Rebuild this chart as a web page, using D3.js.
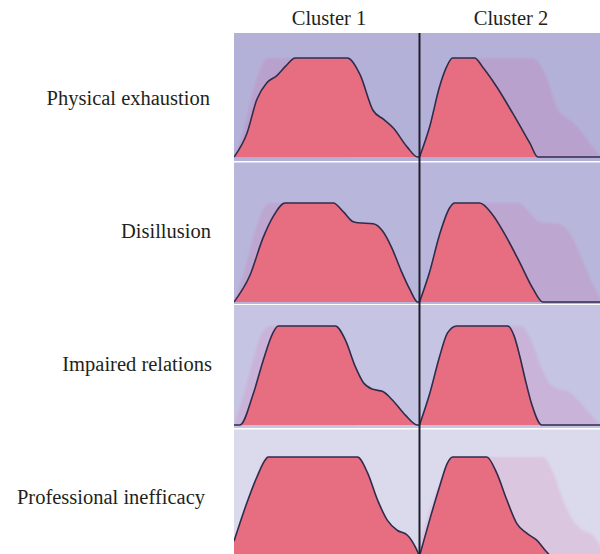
<!DOCTYPE html>
<html>
<head>
<meta charset="utf-8">
<script src="https://cdn.jsdelivr.net/npm/d3@7"></script>
<style>
  body { margin: 0; background: #fff; }
  text { font-family: "Liberation Serif", "DejaVu Serif", serif; fill: #231f20; }
</style>
</head>
<body>
<div id="container"></div>
<script>
// categories
const dimensions = ["Physical exhaustion", "Disillusion", "Impaired relations", "Professional inefficacy"];
const clusters = ["Cluster 1", "Cluster 2"];

// profiles: [score 0-100, relative density 0-1]
const exhaustion1 = [[0,0],[7,0.24],[12.3,0.58],[17.7,0.75],[23,0.82],[28,0.92],[33,1],[61,1],[68,0.83],[75,0.47],[80.7,0.38],[86,0.29],[93.4,0.1],[99,0],[100,0]];
const exhaustion2 = [[0,0],[5.4,0.3],[10.8,0.71],[14.6,0.91],[17.8,1],[29.7,1],[34,0.91],[41.6,0.71],[50.3,0.44],[59.5,0.14],[63.8,0],[100,0]];
const disillusion1 = [[0,0],[8.6,0.27],[15.7,0.65],[21,0.86],[27.6,1],[53.5,1],[59,0.91],[64.3,0.81],[67,0.8],[75,0.79],[80,0.72],[85,0.55],[90,0.32],[95,0.12],[99,0],[100,0]];
const disillusion2 = [[0,0],[5.4,0.3],[10.8,0.68],[16.2,0.95],[18.9,1],[32.4,1],[39.5,0.88],[47,0.65],[54,0.4],[61,0.14],[66.5,0],[100,0]];
const relations1 = [[0,0],[3.2,0],[10.3,0.31],[15.7,0.65],[21,0.93],[23.8,1],[54.6,1],[60,0.86],[65.4,0.59],[69.7,0.43],[75,0.36],[80,0.34],[86,0.24],[92.4,0.1],[99,0],[100,0]];
const relations2 = [[0,0],[5.4,0.31],[10.8,0.69],[15.1,0.93],[20,1],[47.5,1],[51,0.9],[54,0.7],[57,0.46],[60.5,0.21],[66,0],[100,0]];
const inefficacy1 = [[0,0.15],[7,0.54],[12.4,0.8],[16.8,0.97],[18.4,1],[66.5,1],[72,0.84],[77.3,0.57],[82.7,0.36],[88,0.26],[93.5,0.21],[97.8,0.09],[100,0]];
const inefficacy2 = [[0,0],[5.4,0.36],[10.8,0.7],[15.1,0.94],[17.8,1],[36.2,1],[41.6,0.84],[47,0.57],[52.4,0.33],[57.8,0.23],[63.2,0.16],[68.6,0.04],[71,0],[100,0]];

const profiles = [
  [exhaustion1, exhaustion2],
  [disillusion1, disillusion2],
  [relations1, relations2],
  [inefficacy1, inefficacy2]
];

// layout
const width = 600, height = 554;
const plotLeft = 234, colWidth = 185.5;
const rowTops = [33, 162.5, 305, 429.5];
const rowBottoms = [161, 304, 428, 554];
const baselines = [157, 302, 425, 556];
const peak = 99;
const headerX = [329, 511];
const labelRight = [210, 211, 212, 205];
const bgColors = ["#b4b1d9", "#b8b6db", "#c5c4e2", "#dbd9ec"];
const ghostColors = ["#b9a1cd", "#bda6d0", "#c9b3d9", "#dbc6e0"];

const svg = d3.select("#container").
  append("svg").
  attr("width", width).
  attr("height", height);

const defs = svg.append("defs");
defs.append("filter").
  attr("id", "soft").
  attr("x", "-5%").attr("y", "-5%").
  attr("width", "110%").attr("height", "110%").
  append("feGaussianBlur").
  attr("stdDeviation", 1);

// x scale shared by all panels (relative to panel left)
const x = d3.scaleLinear().domain([0, 100]).range([0, colWidth]);

// column headers
svg.selectAll(".header").
  data(clusters).
  enter().
  append("text").
  attr("class", "header").
  attr("x", (d, i) => headerX[i]).
  attr("y", 25).
  attr("text-anchor", "middle").
  style("font-size", "20.5px").
  text(d => d);

dimensions.forEach((name, r) => {
  let y = d3.scaleLinear().domain([0, 1]).range([baselines[r], baselines[r] - peak]);

  let area = d3.area().
    x(d => x(d[0])).
    y0(y(0)).
    y1(d => y(d[1])).
    curve(d3.curveMonotoneX);

  let line = d3.line().
    x(d => x(d[0])).
    y(d => y(d[1])).
    curve(d3.curveMonotoneX);

  // row label
  svg.append("text").
    attr("x", labelRight[r]).
    attr("y", 105 + 133 * r).
    attr("text-anchor", "end").
    style("font-size", "20.5px").
    text(name);

  clusters.forEach((c, k) => {
    let left = plotLeft + k * colWidth;
    let clipId = "clip-" + r + "-" + k;

    defs.append("clipPath").
      attr("id", clipId).
      append("rect").
      attr("x", 0).
      attr("y", rowTops[r]).
      attr("width", colWidth).
      attr("height", rowBottoms[r] - rowTops[r]);

    let g = svg.append("g").
      attr("transform", "translate(" + left + ",0)");

    g.append("rect").
      attr("x", 0).
      attr("y", rowTops[r]).
      attr("width", colWidth).
      attr("height", rowBottoms[r] - rowTops[r]).
      attr("fill", bgColors[r]);

    let panel = g.append("g").attr("clip-path", "url(#" + clipId + ")");

    // other cluster as a faint shadow
    panel.append("path").
      datum(profiles[r][1 - k]).
      attr("d", area).
      attr("fill", ghostColors[r]).
      attr("filter", "url(#soft)");

    panel.append("path").
      datum(profiles[r][k]).
      attr("d", area).
      attr("fill", "#e76e80");

    panel.append("path").
      datum(profiles[r][k]).
      attr("d", line).
      attr("fill", "none").
      attr("stroke", "#2f2c4d").
      attr("stroke-width", 1.6);
  });
});

// divider between clusters
svg.append("line").
  attr("x1", plotLeft + colWidth).
  attr("x2", plotLeft + colWidth).
  attr("y1", rowTops[0]).
  attr("y2", height).
  attr("stroke", "#1f1f2b").
  attr("stroke-width", 2);
</script>
</body>
</html>
